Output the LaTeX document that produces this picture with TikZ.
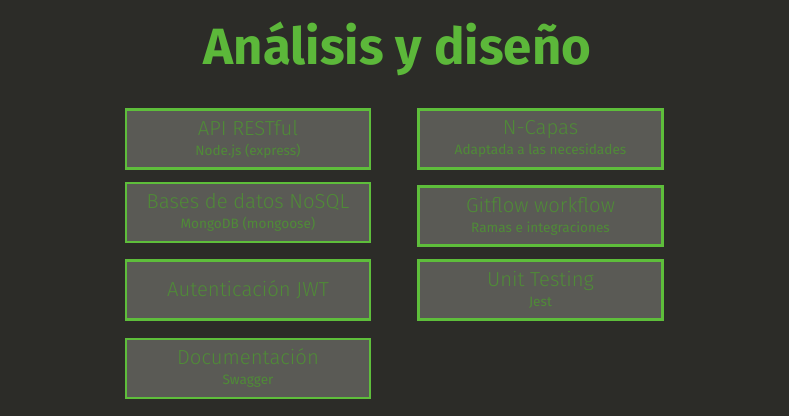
\documentclass[tikz,border=0pt]{standalone}
\usepackage{fontspec}
\setmainfont{Fira Sans}
\newfontfamily\ligera{Fira Sans Light}
\usepackage{tikz}
\usetikzlibrary{positioning}
\usepackage{xcolor}
\definecolor{fondo}{HTML}{2C2C28}
\definecolor{caja}{HTML}{5A5A55}
\definecolor{borde}{HTML}{5EBE3B}
\definecolor{texto}{HTML}{4F8B37}
\definecolor{titulo}{HTML}{5CB83A}
\tikzset{
	tema/.style={draw=borde,fill=caja,line width=2.6pt,minimum width=244pt,minimum height=59pt,inner sep=0pt,align=center,text=texto,font=\ligera\fontsize{20.3}{22}\selectfont},
}
\newcommand{\sub}[1]{\\[-2pt]{\normalfont\fontsize{13.6}{15}\selectfont #1}}

\begin{document}
\begin{tikzpicture}[x=1pt,y=-1pt]
			\fill[fondo] (0,0) rectangle (789,416);
			\node[text=titulo,font=\fontsize{51}{54}\selectfont\bfseries] (titulo) at (397.5,49) {Análisis y diseño};
			%columna izquierda
			\node[tema] (api) at (248,139) {API RESTful\sub{Node.js (express)}};
			\node[tema] (bd) at (248,212.5) {Bases de datos NoSQL\sub{MongoDB (mongoose)}};
			\node[tema] (jwt) at (248,290) {Autenticación JWT};
			\node[tema] (doc) at (248,368.5) {Documentación\sub{Swagger}};
			%columna derecha
			\node[tema] (capas) at (540.5,139) {N-Capas\sub{Adaptada a las necesidades}};
			\node[tema] (git) at (540.5,216) {Gitflow workflow\sub{Ramas e integraciones}};
			\node[tema] (test) at (540.5,290) {Unit Testing\sub{Jest}};
		\end{tikzpicture}
\end{document}
